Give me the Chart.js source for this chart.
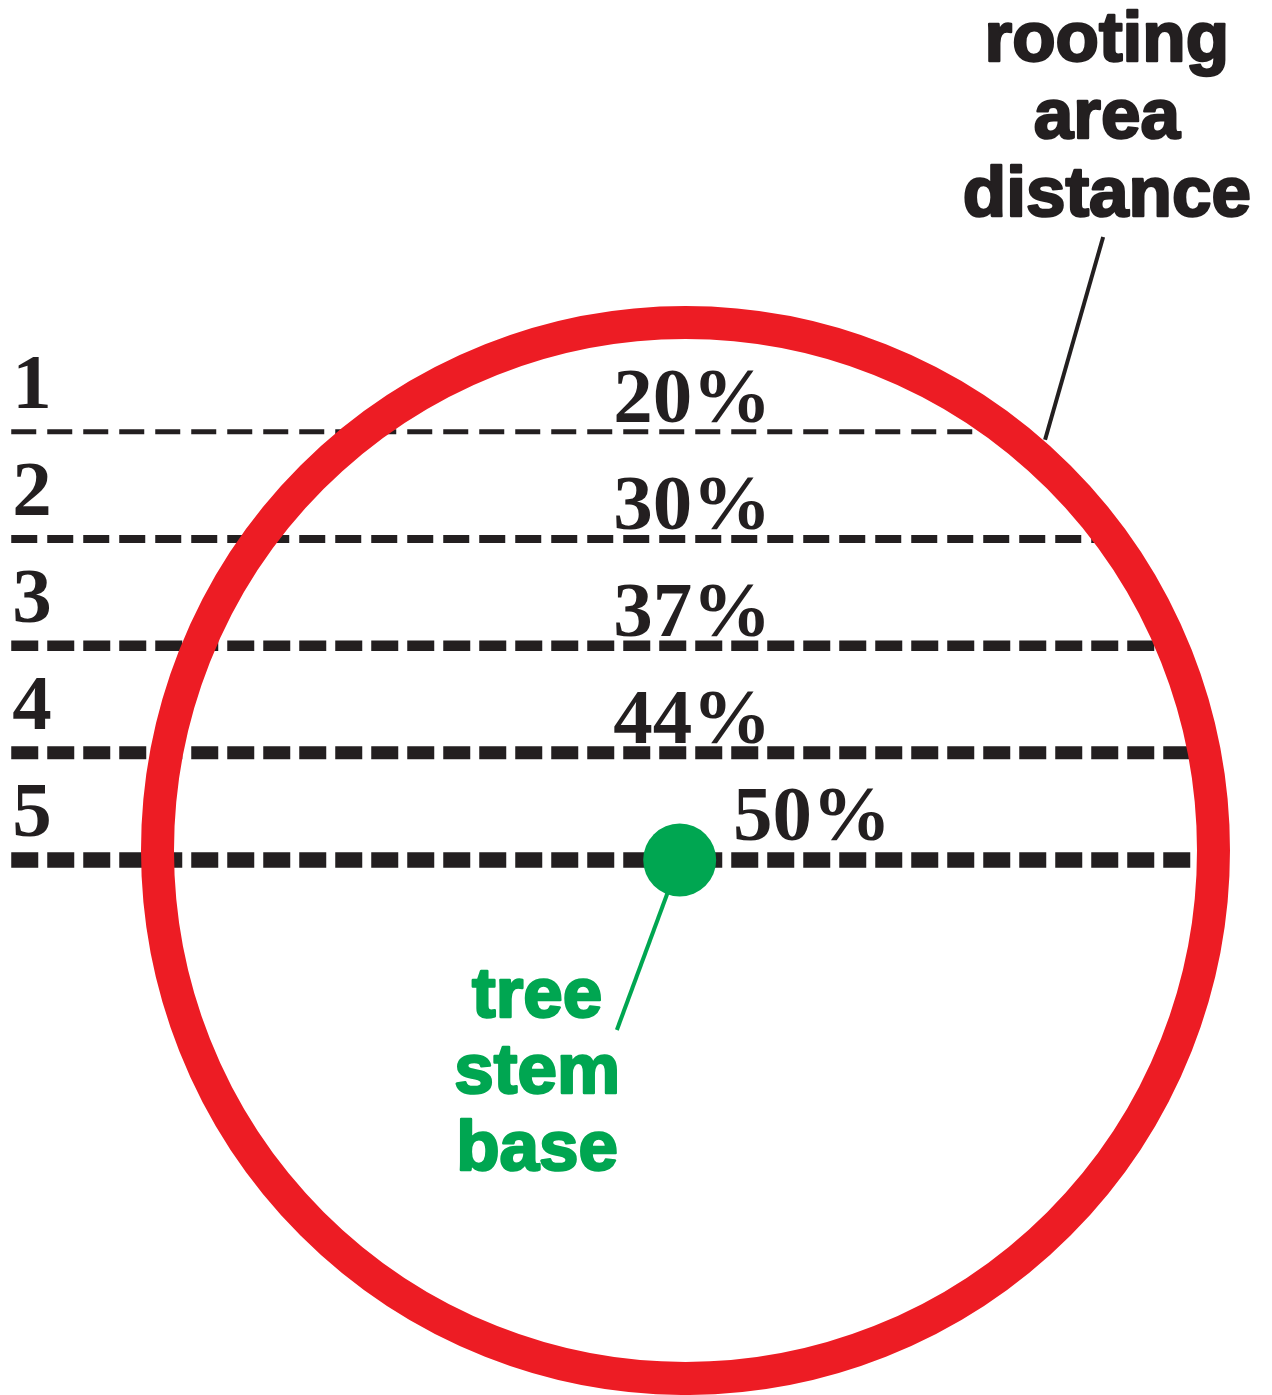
<!DOCTYPE html>
<html>
<head>
<meta charset="utf-8">
<script src="https://cdn.jsdelivr.net/npm/chart.js@4/dist/chart.umd.min.js"></script>
<style>
  html, body { margin: 0; padding: 0; background: #fff; }
  canvas { display: block; }
</style>
</head>
<body>
<canvas id="rootChart" width="1272" height="1395"></canvas>
<script>
// units: 1 = rooting area distance (circle radius), origin at circle centre
var layerNames = ["1", "2", "3", "4", "5"];
var layerShares = ["20%", "30%", "37%", "44%", "50%"];
var layerHeights = [0.793, 0.590, 0.388, 0.185, -0.018];
var layerStartX = -1.277;
var rootingRadius = 1;
var stemBase = { x: -0.011, y: -0.018 };
var stemLabel = ["tree", "stem", "base"];
var rootLabel = ["rooting", "area", "distance"];

var RED = "#ed1c24";
var INK = "#231f20";
var GREEN = "#00a651";
var lineWidths = [5, 8, 10.5, 13, 15.5];
var lineDashes = [[25, 11], [26, 10], [27, 9], [27, 9], [27, 9]];

var lineSets = layerHeights.map((h, i) => ({
  data: [{ x: layerStartX, y: h }, { x: Math.sqrt(rootingRadius * rootingRadius - h * h), y: h }],
  showLine: true,
  borderColor: INK,
  borderWidth: lineWidths[i],
  borderDash: lineDashes[i],
  borderCapStyle: "butt",
  pointRadius: 0,
  order: 2
}));

var dotSet = {
  data: [stemBase],
  backgroundColor: GREEN,
  borderWidth: 0,
  pointRadius: 36.5,
  order: 0
};

// heavy sans: fill + thin stroke of the same colour
var heavyText = (ctx, t, x, y) => {
  ctx.strokeText(t, x, y);
  ctx.fillText(t, x, y);
};

// leaders + ring + text, placed through the chart scales
var diagram = {
  id: "diagram",
  beforeDatasetsDraw: chart => {
    var ctx = chart.ctx, xs = chart.scales.x, ys = chart.scales.y;
    ctx.save();
    ctx.lineCap = "butt";
    ctx.strokeStyle = INK;
    ctx.lineWidth = 4;
    ctx.beginPath();
    ctx.moveTo(xs.getPixelForValue(0.791), ys.getPixelForValue(1.162));
    ctx.lineTo(xs.getPixelForValue(0.681), ys.getPixelForValue(0.778));
    ctx.stroke();
    ctx.strokeStyle = GREEN;
    ctx.beginPath();
    ctx.moveTo(xs.getPixelForValue(stemBase.x), ys.getPixelForValue(stemBase.y));
    ctx.lineTo(xs.getPixelForValue(-0.130), ys.getPixelForValue(-0.340));
    ctx.stroke();
    ctx.restore();
  },
  afterDatasetsDraw: chart => {
    var ctx = chart.ctx, xs = chart.scales.x, ys = chart.scales.y;
    var cx = xs.getPixelForValue(0), cy = ys.getPixelForValue(0);
    var r = xs.getPixelForValue(rootingRadius) - cx;
    ctx.save();
    ctx.strokeStyle = RED;
    ctx.lineWidth = 33;
    ctx.beginPath();
    ctx.arc(cx, cy, r, 0, Math.PI * 2);
    ctx.stroke();
    ctx.restore();
  },
  afterDraw: chart => {
    var ctx = chart.ctx, xs = chart.scales.x, ys = chart.scales.y;
    ctx.save();
    ctx.textBaseline = "alphabetic";
    ctx.fillStyle = INK;
    ctx.font = "bold 79px 'Liberation Serif', 'Times New Roman', serif";
    ctx.textAlign = "left";
    layerHeights.forEach((h, i) => {
      var py = ys.getPixelForValue(h);
      ctx.fillText(layerNames[i], xs.getPixelForValue(layerStartX) + 1, py - 24);
      if (i < 4) {
        ctx.fillText(layerShares[i], xs.getPixelForValue(-0.137), py - 10);
      } else {
        ctx.fillText(layerShares[i], xs.getPixelForValue(0.09), py - 20);
      }
    });

    ctx.textAlign = "center";
    ctx.lineJoin = "round";
    ctx.lineWidth = 2.5;
    ctx.font = "bold 71px 'Liberation Sans', Arial, sans-serif";
    ctx.strokeStyle = INK;
    var rx = xs.getPixelForValue(0.798), ry = ys.getPixelForValue(1.501) + 3;
    rootLabel.forEach((t, i) => heavyText(ctx, t, rx, ry + i * 77.5));

    ctx.fillStyle = GREEN;
    ctx.strokeStyle = GREEN;
    var gx = xs.getPixelForValue(-0.281), gy = ys.getPixelForValue(-0.315);
    stemLabel.forEach((t, i) => heavyText(ctx, t, gx, gy + i * 76.5));
    ctx.restore();
  }
};

new Chart("rootChart", {
  type: "scatter",
  data: { datasets: [dotSet].concat(lineSets) },
  options: {
    responsive: false,
    animation: false,
    layout: { padding: 0, autoPadding: false },
    scales: {
      x: { type: "linear", min: -1.2983, max: 1.1108, display: false },
      y: { type: "linear", min: -1.0312, max: 1.6108, display: false }
    },
    plugins: { legend: { display: false }, tooltip: { enabled: false } }
  },
  plugins: [diagram]
});
</script>
</body>
</html>
